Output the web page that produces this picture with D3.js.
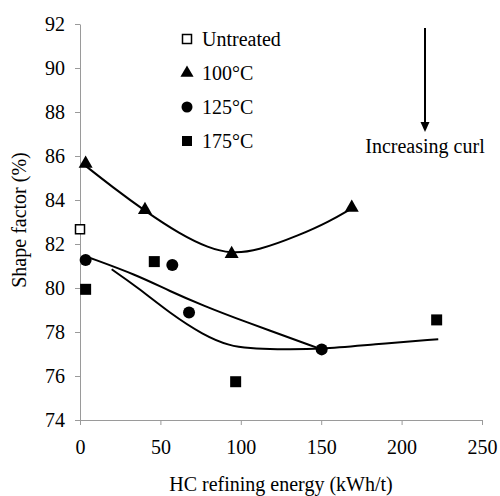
<!DOCTYPE html>
<html>
<head>
<meta charset="utf-8">
<script src="https://cdn.jsdelivr.net/npm/d3@7"></script>
<style>
  body { margin: 0; background: #fff; }
  svg text { font-family: "Liberation Serif", "DejaVu Serif", "Times New Roman", Times, serif; fill: #000; }
</style>
</head>
<body>
<div id="chart"></div>
<script>
// Data
let untreatedX = [0];
let untreatedY = [82.67];
let t100X = [3.5, 40.4, 94.3, 169];
let t100Y = [85.65, 83.55, 81.55, 83.65];
let t125X = [3.5, 57.4, 67.8, 150.3];
let t125Y = [81.27, 81.05, 78.89, 77.21];
let t175X = [3.5, 46.2, 96.8, 221.8];
let t175Y = [79.94, 81.2, 75.74, 78.55];

// Trend curves
let fit100X = [3.5, 20, 40.4, 62.2, 80, 93.7, 110, 136.8, 155, 169];
let fit100Y = [85.55, 84.6, 83.5, 82.45, 81.82, 81.57, 81.68, 82.41, 83.02, 83.62];
let fit125X = [5, 35.3, 56, 76.7, 99.5, 150.3];
let fit125Y = [81.4, 80.59, 79.85, 79.2, 78.55, 77.21];
let fit175X = [19.7, 35.3, 56, 76.7, 93.3, 105.7, 120.2, 150.3, 182.4, 222.8];
let fit175Y = [80.85, 80.06, 78.85, 77.86, 77.36, 77.26, 77.21, 77.21, 77.44, 77.67];

let xTicks = [0, 50, 100, 150, 200, 250];
let yTicks = [74, 76, 78, 80, 82, 84, 86, 88, 90, 92];
let legendLabels = ["Untreated", "100\u00B0C", "125\u00B0C", "175\u00B0C"];

let svgWidth = 500;
let svgHeight = 496;
let margin = { top: 24, right: 18, bottom: 76, left: 80 };
let width = svgWidth - margin.left - margin.right;
let height = svgHeight - margin.top - margin.bottom;
let serif = "Liberation Serif, DejaVu Serif, Times New Roman, serif";

let svg = d3.select("#chart")
  .append("svg")
  .attr("width", svgWidth)
  .attr("height", svgHeight)
  .attr("font-family", serif);

let chartGroup = svg.append("g")
  .attr("transform", `translate(${margin.left}, ${margin.top})`);

let x = d3.scaleLinear().domain([0, 250]).range([0, width]);
let y = d3.scaleLinear().domain([74, 92]).range([height, 0]);

// Axes
let xAxis = chartGroup.append("g")
  .attr("transform", `translate(0, ${height})`)
  .call(d3.axisBottom(x).tickValues(xTicks).tickSize(5).tickSizeOuter(0).tickPadding(15));

let yAxis = chartGroup.append("g")
  .call(d3.axisLeft(y).tickValues(yTicks).tickSize(5).tickSizeOuter(0).tickPadding(10));

[xAxis, yAxis].forEach(a => {
  a.attr("font-family", serif).attr("font-size", 20);
  a.selectAll("path, line").attr("stroke", "#9a9a9a");
  a.selectAll("text").attr("fill", "#000");
});

// Axis titles
chartGroup.append("text")
  .attr("x", width / 2)
  .attr("y", height + 71)
  .attr("text-anchor", "middle")
  .attr("font-size", 20)
  .text("HC refining energy (kWh/t)");

chartGroup.append("text")
  .attr("transform", "rotate(-90)")
  .attr("x", -(220 - margin.top))
  .attr("y", -54)
  .attr("text-anchor", "middle")
  .attr("font-size", 20)
  .text("Shape factor (%)");

// Trend lines
let line = d3.line()
  .x(d => x(d[0]))
  .y(d => y(d[1]))
  .curve(d3.curveBasis);

[[fit100X, fit100Y], [fit125X, fit125Y], [fit175X, fit175Y]].forEach(f => {
  chartGroup.append("path")
    .datum(d3.zip(f[0], f[1]))
    .attr("d", line)
    .attr("fill", "none")
    .attr("stroke", "#000")
    .attr("stroke-width", 2);
});

// Markers
let triangle = d3.symbol().type(d3.symbolTriangle).size(85);

chartGroup.selectAll(".tri")
  .data(d3.zip(t100X, t100Y))
  .enter()
  .append("path")
  .attr("d", triangle)
  .attr("transform", d => `translate(${x(d[0])}, ${y(d[1])})`)
  .attr("fill", "#000");

chartGroup.selectAll(".dot")
  .data(d3.zip(t125X, t125Y))
  .enter()
  .append("circle")
  .attr("cx", d => x(d[0]))
  .attr("cy", d => y(d[1]))
  .attr("r", 6)
  .attr("fill", "#000");

chartGroup.selectAll(".sq")
  .data(d3.zip(t175X, t175Y))
  .enter()
  .append("rect")
  .attr("x", d => x(d[0]) - 5.5)
  .attr("y", d => y(d[1]) - 5.5)
  .attr("width", 11)
  .attr("height", 11)
  .attr("fill", "#000");

chartGroup.selectAll(".open")
  .data(d3.zip(untreatedX, untreatedY))
  .enter()
  .append("rect")
  .attr("x", d => x(d[0]) - 4.5)
  .attr("y", d => y(d[1]) - 4.5)
  .attr("width", 9)
  .attr("height", 9)
  .attr("fill", "#fff")
  .attr("stroke", "#000")
  .attr("stroke-width", 1.5);

// Legend
let legend = svg.append("g").attr("transform", "translate(187, 39)");
legendLabels.forEach((label, i) => {
  let row = legend.append("g").attr("transform", `translate(0, ${i * 34})`);
  if (i === 0) {
    row.append("rect").attr("x", -4.5).attr("y", -4.5).attr("width", 9).attr("height", 9)
      .attr("fill", "#fff").attr("stroke", "#000").attr("stroke-width", 1.5);
  } else if (i === 1) {
    row.append("path").attr("d", d3.symbol().type(d3.symbolTriangle).size(75)).attr("fill", "#000");
  } else if (i === 2) {
    row.append("circle").attr("r", 5.5).attr("fill", "#000");
  } else {
    row.append("rect").attr("x", -5).attr("y", -5).attr("width", 10).attr("height", 10).attr("fill", "#000");
  }
  row.append("text")
    .attr("x", 15)
    .attr("y", 7)
    .attr("font-size", 20)
    .text(label);
});

// Arrow annotation
let arrow = svg.append("g");
arrow.append("line")
  .attr("x1", 425).attr("y1", 28)
  .attr("x2", 425).attr("y2", 124)
  .attr("stroke", "#000")
  .attr("stroke-width", 2);
arrow.append("path")
  .attr("d", "M420.5,122 L429.5,122 L425,132 Z")
  .attr("fill", "#000");
arrow.append("text")
  .attr("x", 425)
  .attr("y", 153)
  .attr("text-anchor", "middle")
  .attr("font-size", 20)
  .text("Increasing curl");
</script>
</body>
</html>
